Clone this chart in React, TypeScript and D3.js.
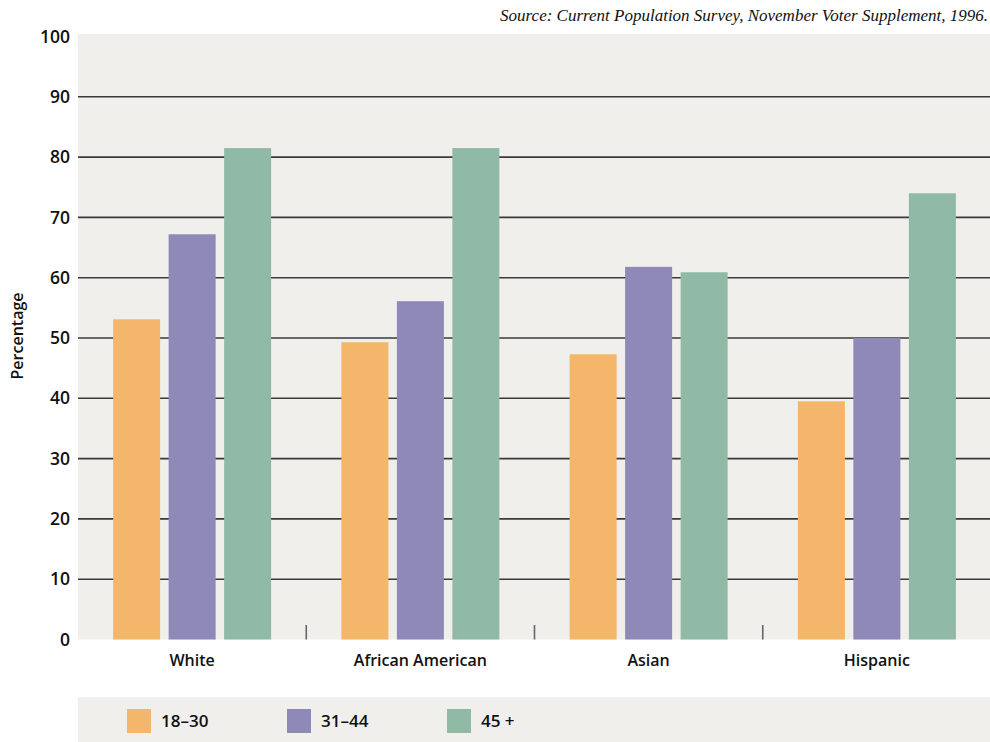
import React from "react";
import * as d3 from "d3";

const categories = ["White", "African American", "Asian", "Hispanic"];
const series = ["18–30", "31–44", "45 +"];
const values18to30 = [53.1, 49.3, 47.3, 39.5];
const values31to44 = [67.2, 56.1, 61.8, 50.0];
const values45plus = [81.5, 81.5, 60.9, 74.0];
const yTicks = [0, 10, 20, 30, 40, 50, 60, 70, 80, 90, 100];
const colors = ["#f4b66a", "#8e89b7", "#91baa6"];
const sourceText = "Source: Current Population Survey, November Voter Supplement, 1996.";

const W = 990;
const H = 742;
const left = 78;
const right = 991;
const bottom = 639.5;
const top = 36.5;
const sans = "'Open Sans', 'DejaVu Sans', sans-serif";

export default function App() {
  const seriesValues = [values18to30, values31to44, values45plus];
  const x = d3.scaleBand<string>().domain(categories).range([left, right]).padding(0);
  const y = d3.scaleLinear().domain([0, 100]).range([bottom, top]);
  const inner = d3
    .scaleBand<string>()
    .domain(series)
    .range([-79, 79])
    .paddingInner(0.153)
    .paddingOuter(0);

  const separators = categories.slice(1).map((c) => x(c)!);

  return (
    <svg
      width={W}
      height={H}
      style={{ position: "absolute", left: 0, top: 0, display: "block", background: "#fff" }}
    >
      <rect x={left} y={34} width={W - left} height={bottom - 34} fill="#f0efeb" />
      {yTicks
        .filter((t) => t > 0 && t < 100)
        .map((t) => (
          <line key={t} x1={left} x2={W} y1={y(t)} y2={y(t)} stroke="#3a3a3a" strokeWidth={1.6} />
        ))}
      {yTicks.map((t) => (
        <text
          key={"l" + t}
          x={70}
          y={y(t)}
          dy="0.35em"
          textAnchor="end"
          fontFamily={sans}
          fontWeight={600}
          fontSize={17.5}
          fill="#111"
        >
          {t}
        </text>
      ))}
      <text
        transform={`translate(23, ${336}) rotate(-90)`}
        textAnchor="middle"
        fontFamily={sans}
        fontWeight={600}
        fontSize={16}
        fill="#111"
      >
        Percentage
      </text>
      {separators.map((sx, i) => (
        <line key={"s" + i} x1={sx} x2={sx} y1={625} y2={bottom} stroke="#666" strokeWidth={1.6} />
      ))}
      {categories.map((c, ci) => {
        const cx = x(c)! + x.bandwidth() / 2;
        return (
          <g key={c}>
            {series.map((s, si) => {
              const v = seriesValues[si][ci];
              return (
                <rect
                  key={s}
                  x={cx + inner(s)!}
                  width={inner.bandwidth()}
                  y={y(v)}
                  height={bottom - y(v)}
                  fill={colors[si]}
                />
              );
            })}
            <text
              x={cx}
              y={666}
              textAnchor="middle"
              fontFamily={sans}
              fontWeight={600}
              fontSize={16}
              fill="#111"
            >
              {c}
            </text>
          </g>
        );
      })}
      <text
        x={988}
        y={21}
        textAnchor="end"
        fontFamily="'Liberation Serif', 'DejaVu Serif', serif"
        fontStyle="italic"
        fontSize={17}
        fill="#111"
      >
        {sourceText}
      </text>
      <rect x={left} y={697} width={W - left} height={H - 697} fill="#f0efeb" />
      {series.map((s, i) => (
        <g key={"lg" + s} transform={`translate(${127 + i * 160}, 709)`}>
          <rect width={24} height={24} fill={colors[i]} />
          <text x={34} y={12} dy="0.35em" fontFamily={sans} fontWeight={600} fontSize={17} fill="#111">
            {s}
          </text>
        </g>
      ))}
    </svg>
  );
}
